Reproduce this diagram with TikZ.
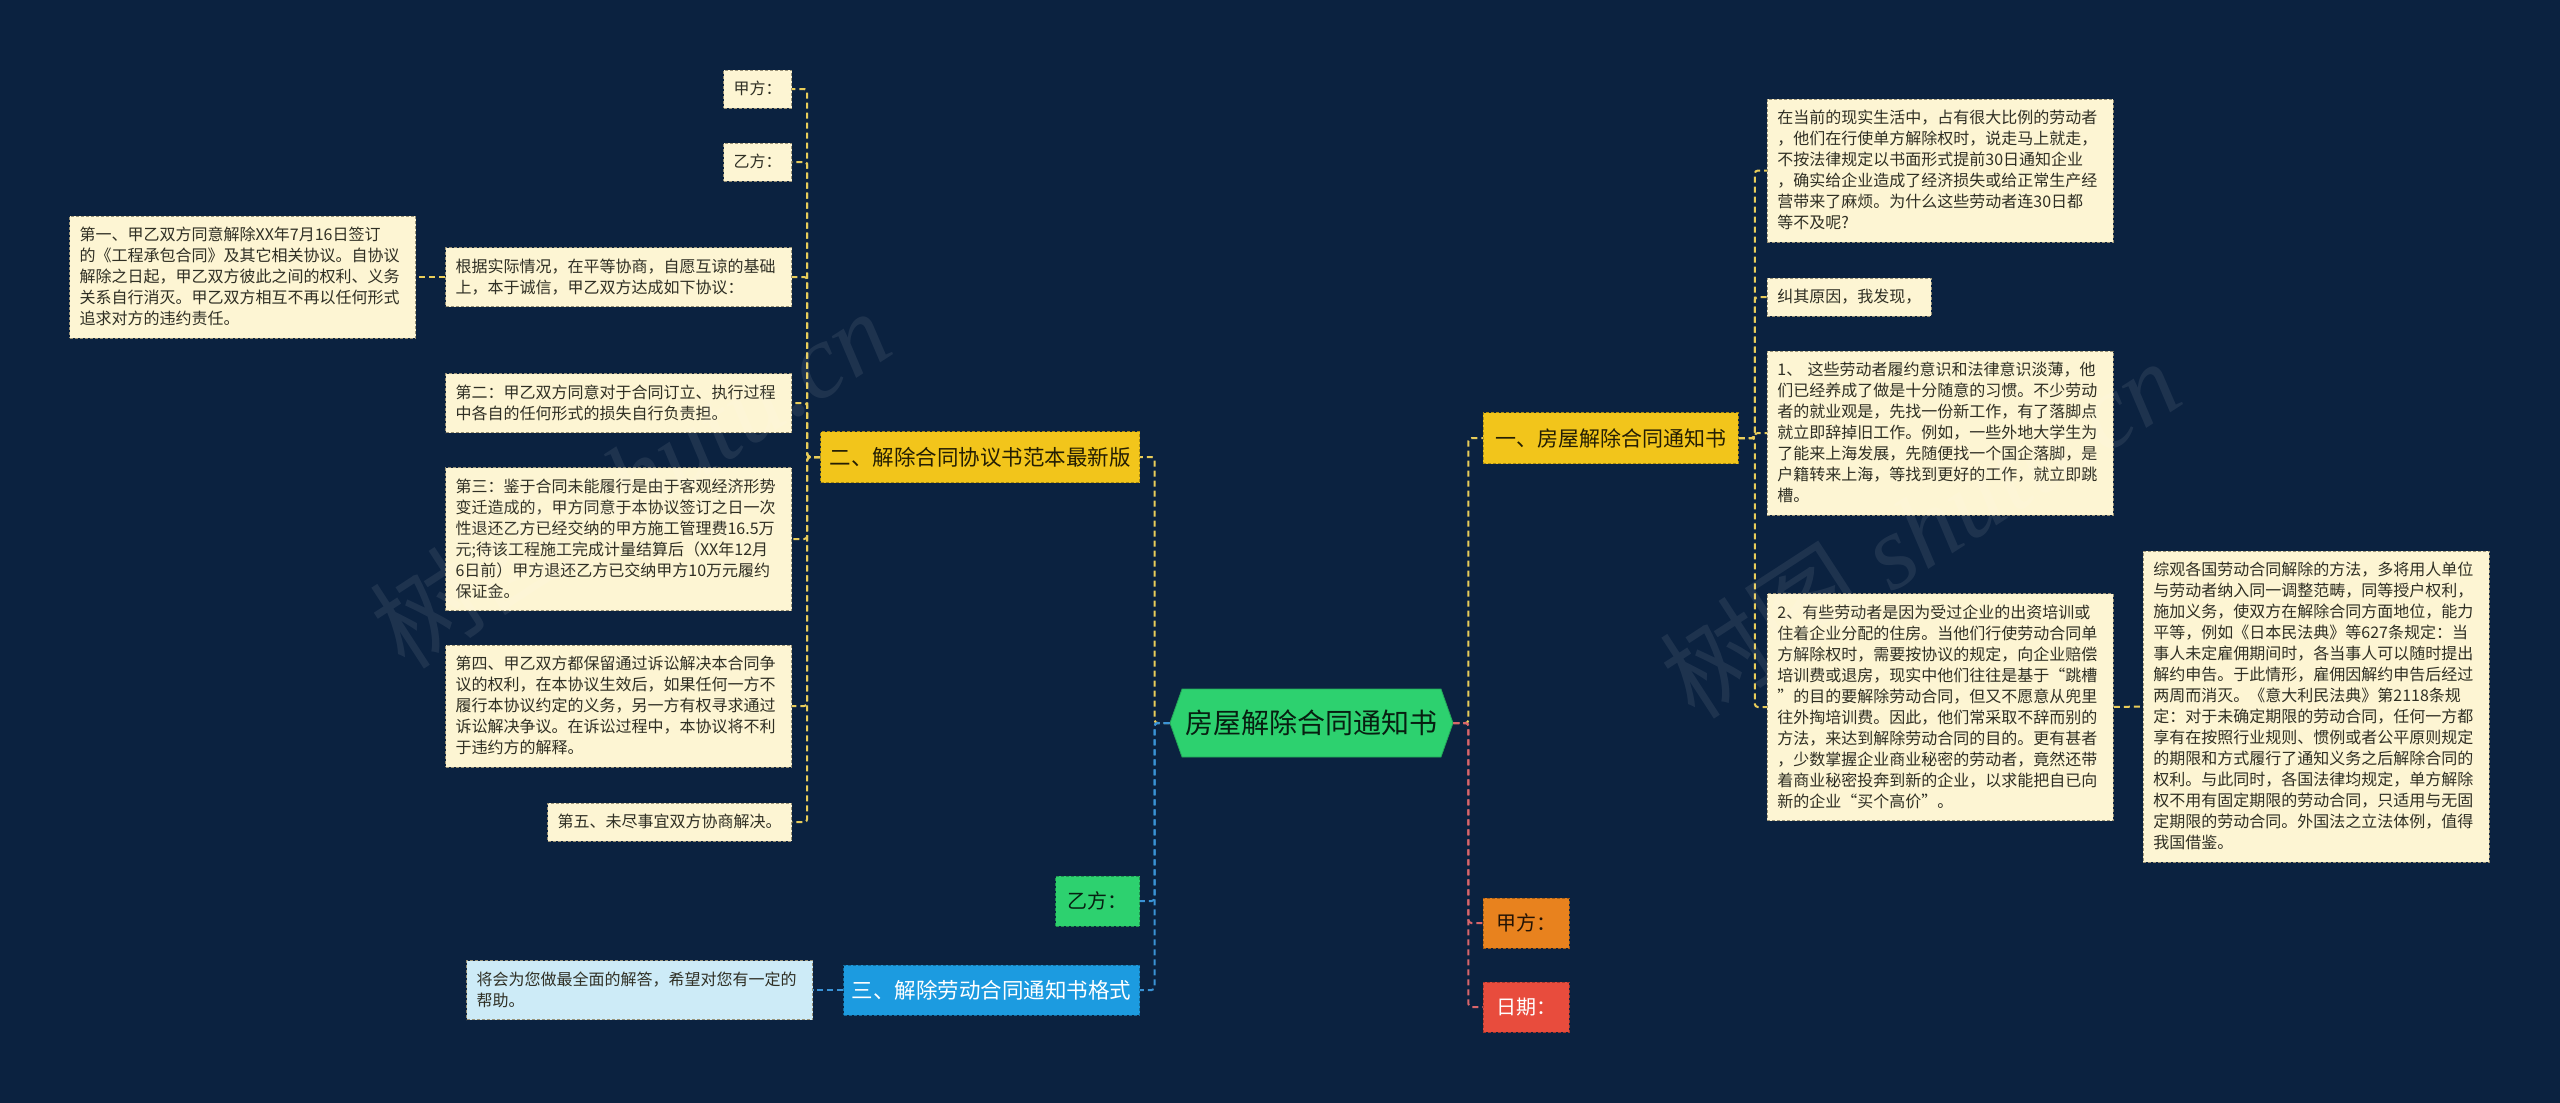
\documentclass[tikz,border=0pt]{standalone}
\usepackage{fontspec}
\setmainfont{Noto Sans CJK SC}
\newfontfamily\wmfont{Liberation Serif}
\usetikzlibrary{shapes.symbols}
\definecolor{bgc}{HTML}{0B2240}
\definecolor{cream}{HTML}{FDF5D3}
\definecolor{creamline}{HTML}{9A9276}
\definecolor{leaftext}{HTML}{2F2F24}
\definecolor{ylw}{HTML}{F2C51B}
\definecolor{ylwline}{HTML}{E9CD5A}
\definecolor{grn}{HTML}{2DD16F}
\definecolor{bluebox}{HTML}{1C9BE0}
\definecolor{blueline}{HTML}{3A93D6}
\definecolor{lblue}{HTML}{CDEBF7}
\definecolor{orng}{HTML}{E8821E}
\definecolor{redbox}{HTML}{E84C3D}
\definecolor{redline}{HTML}{D9656A}
\newcommand\mystr{\rule[-5pt]{0pt}{21pt}}
\begin{document}
\begin{tikzpicture}[x=1pt,y=-1pt,
  leaf/.style={draw=creamline, dashed, dash pattern=on 3pt off 2pt, line width=0.8pt, fill=cream, text=leaftext,
    font=\fontsize{16}{21}\selectfont, inner xsep=10pt, inner ysep=8.5pt, align=left,
    execute at begin node=\mystr, execute at end node=\mystr},
  leafw/.style={leaf, text width=326pt},
  title/.style={draw=#1!70!black, dashed, dash pattern=on 3pt off 2pt, line width=0.8pt, fill=#1, inner sep=0pt, align=center},
  yc/.style={draw=ylwline, dash pattern=on 6pt off 4pt, line width=2pt, rounded corners=3pt},
  bc/.style={draw=blueline, dash pattern=on 6pt off 4pt, line width=2pt, rounded corners=3pt},
  rc/.style={draw=redline, dash pattern=on 6pt off 4pt, line width=2pt, rounded corners=3pt},
  wm/.style={text=white, opacity=0.08, font=\fontsize{105}{110}\selectfont}
]
\fill[bgc] (0,0) rectangle (2560,1103);
\useasboundingbox (0,0) rectangle (2560,1103);

% root
\node[signal, signal to=east and west, signal pointer angle=141, fill=grn, draw=grn!80!black, line width=0.8pt,
  minimum width=283pt, minimum height=68pt, inner sep=0pt, text=black!85!grn, font=\fontsize{28}{32}\selectfont]
  (root) at (1311.5,723) {房屋解除合同通知书};

% level 1
\node[title=ylw, minimum width=255pt, minimum height=51pt, text=black!85!ylw, font=\fontsize{21}{25}\selectfont,
  anchor=west] (yi) at (1483,438) {一、房屋解除合同通知书};
\node[title=ylw, minimum width=319pt, minimum height=51pt, text=black!85!ylw, font=\fontsize{21.5}{26}\selectfont,
  anchor=east] (er) at (1140,457) {二、解除合同协议书范本最新版};
\node[title=grn, minimum width=84pt, minimum height=50pt, text=black!85!grn, font=\fontsize{20}{24}\selectfont,
  anchor=east] (yiG) at (1140,901) {乙方：};
\node[title=bluebox, minimum width=296pt, minimum height=50pt, text=white, font=\fontsize{21.5}{26}\selectfont,
  anchor=east] (san) at (1140,990) {三、解除劳动合同通知书格式};
\node[title=orng, minimum width=86pt, minimum height=50pt, text=black!85!orng, font=\fontsize{20}{24}\selectfont,
  anchor=west] (jiaO) at (1483,923) {甲方：};
\node[title=redbox, minimum width=86pt, minimum height=50pt, text=white, font=\fontsize{20}{24}\selectfont,
  anchor=west] (riqi) at (1483,1007) {日期：};

% left leaves (branch 二)
\node[leaf, anchor=east] (jiaL) at (792,89) {甲方：};
\node[leaf, anchor=east] (yiL) at (792,162) {乙方：};
\node[leafw, anchor=east] (genju) at (792,277) {根据实际情况，在平等协商，自愿互谅的基础\\上，本于诚信，甲乙双方达成如下协议：};
\node[leafw, anchor=east] (di1) at (416,277) {第一、甲乙双方同意解除XX年7月16日签订\\的《工程承包合同》及其它相关协议。自协议\\解除之日起，甲乙双方彼此之间的权利、义务\\关系自行消灭。甲乙双方相互不再以任何形式\\追求对方的违约责任。};
\node[leafw, anchor=east] (di2) at (792,403) {第二：甲乙双方同意对于合同订立、执行过程\\中各自的任何形式的损失自行负责担。};
\node[leafw, anchor=east] (di3) at (792,539) {第三：鉴于合同未能履行是由于客观经济形势\\变迁造成的，甲方同意于本协议签订之日一次\\性退还乙方已经交纳的甲方施工管理费16.5万\\元;待该工程施工完成计量结算后（XX年12月\\6日前）甲方退还乙方已交纳甲方10万元履约\\保证金。};
\node[leafw, anchor=east] (di4) at (792,706) {第四、甲乙双方都保留通过诉讼解决本合同争\\议的权利，在本协议生效后，如果任何一方不\\履行本协议约定的义务，另一方有权寻求通过\\诉讼解决争议。在诉讼过程中，本协议将不利\\于违约方的解释。};
\node[leaf, anchor=east] (di5) at (792,822) {第五、未尽事宜双方协商解决。};

% branch 三 leaf
\node[leafw, fill=lblue, anchor=east] (jiang) at (813,990) {将会为您做最全面的解答，希望对您有一定的\\帮助。};

% right leaves (branch 一)
\node[leafw, anchor=west] (r1) at (1767,170.5) {在当前的现实生活中，占有很大比例的劳动者\\，他们在行使单方解除权时，说走马上就走，\\不按法律规定以书面形式提前30日通知企业\\，确实给企业造成了经济损失或给正常生产经\\营带来了麻烦。为什么这些劳动者连30日都\\等不及呢?};
\node[leaf, anchor=west] (r2) at (1767,297) {纠其原因，我发现，};
\node[leafw, anchor=west] (r3) at (1767,433) {1、 这些劳动者履约意识和法律意识淡薄，他\\们已经养成了做是十分随意的习惯。不少劳动\\者的就业观是，先找一份新工作，有了落脚点\\就立即辞掉旧工作。例如，一些外地大学生为\\了能来上海发展，先随便找一个国企落脚，是\\户籍转来上海，等找到更好的工作，就立即跳\\槽。};
\node[leafw, anchor=west] (r4) at (1767,707) {2、有些劳动者是因为受过企业的出资培训或\\住着企业分配的住房。当他们行使劳动合同单\\方解除权时，需要按协议的规定，向企业赔偿\\培训费或退房，现实中他们往往是基于“跳槽\\”的目的要解除劳动合同，但又不愿意从兜里\\往外掏培训费。因此，他们常采取不辞而别的\\方法，来达到解除劳动合同的目的。更有甚者\\，少数掌握企业商业秘密的劳动者，竟然还带\\着商业秘密投奔到新的企业，以求能把自已向\\新的企业“买个高价”。};
\node[leafw, anchor=west] (zong) at (2143,706.5) {综观各国劳动合同解除的方法，多将用人单位\\与劳动者纳入同一调整范畴，同等授户权利，\\施加义务，使双方在解除合同方面地位，能力\\平等，例如《日本民法典》等627条规定：当\\事人未定雇佣期间时，各当事人可以随时提出\\解约申告。于此情形，雇佣因解约申告后经过\\两周而消灭。《意大利民法典》第2118条规\\定：对于未确定期限的劳动合同，任何一方都\\享有在按照行业规则、惯例或者公平原则规定\\的期限和方式履行了通知义务之后解除合同的\\权利。与此同时，各国法律均规定，单方解除\\权不用有固定期限的劳动合同，只适用与无固\\定期限的劳动合同。外国法之立法体例，值得\\我国借鉴。};

% connectors from root
\draw[yc] (root.west) -- ++(-15,0) |- (er.east);
\draw[bc] (root.west) -- ++(-15,0) |- (yiG.east);
\draw[bc] (root.west) -- ++(-15,0) |- (san.east);
\draw[yc] (root.east) -- ++(15,0) |- (yi.west);
\draw[rc] (root.east) -- ++(15,0) |- (jiaO.west);
\draw[rc] (root.east) -- ++(15,0) |- (riqi.west);

% branch 二
\foreach \c in {jiaL,yiL,genju,di2,di3,di4,di5}
  \draw[yc] (er.west) -- ++(-13,0) |- (\c.east);
\draw[yc] (genju.west) -- (di1.east);

% branch 一
\foreach \c in {r1,r2,r3,r4}
  \draw[yc] (yi.east) -- ++(16,0) |- (\c.west);
\draw[yc] (r4.east) -- (zong.west);

% branch 三
\draw[bc] (san.west) -- (jiang.east);

% watermark
\node[wm, rotate=33] (wm1) at (630,478) {树图 {\wmfont\itshape shutu.cn}};
\node[wm, rotate=33] (wm2) at (1920,528) {树图 {\wmfont\itshape shutu.cn}};
\end{tikzpicture}
\end{document}
